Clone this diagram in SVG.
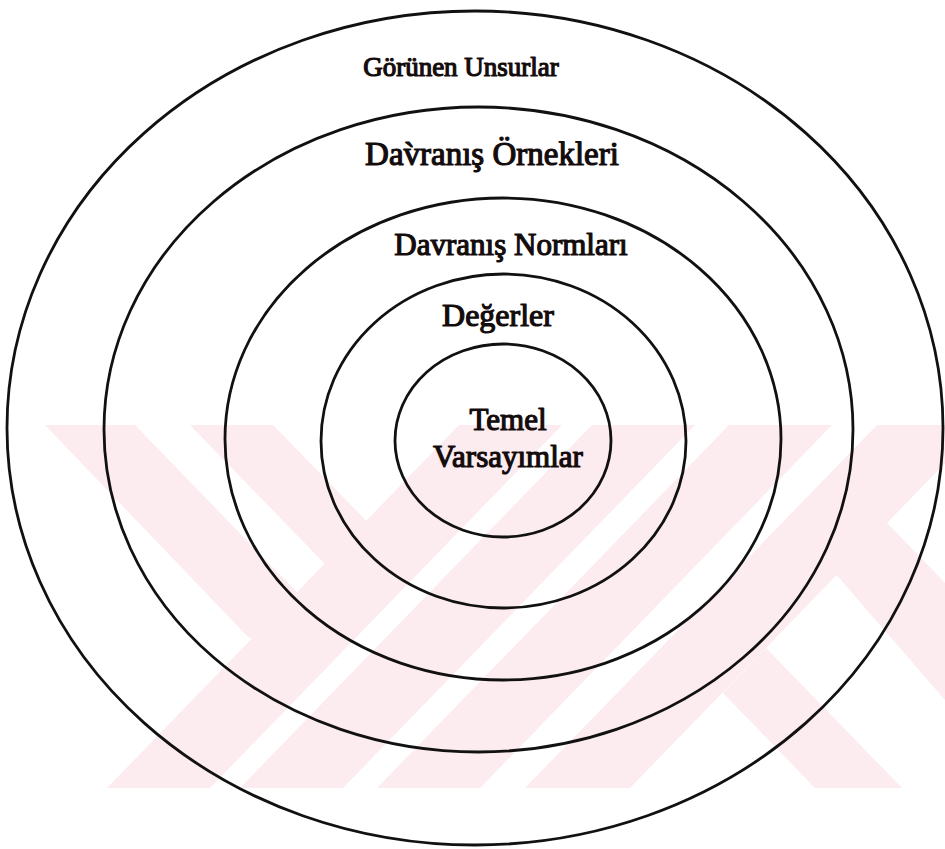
<svg xmlns="http://www.w3.org/2000/svg" width="945" height="849" viewBox="0 0 945 849">
  <defs>
    <clipPath id="band"><rect x="45" y="425" width="900" height="363"/></clipPath>
  </defs>
  <style>
    .ring { fill: none; stroke: #111; stroke-width: 2.8; }
    .lbl { font-family: "Liberation Serif", "Times New Roman", serif; fill: #140c0c; stroke: #140c0c; stroke-width: 1.2; stroke-linejoin: round; text-anchor: middle; }
    .wm { fill: #fcebef; stroke: none; }
  </style>
  <rect x="0" y="0" width="945" height="849" fill="#ffffff"/>
  <g id="watermark" clip-path="url(#band)">
    <polygon class="wm" points="107,788 210,788 562,425 459,425"/>
    <polygon class="wm" points="240,788 343,788 695,425 592,425"/>
    <polygon class="wm" points="377,788 480,788 832,425 729,425"/>
    <polygon class="wm" points="525,788 630,788 982,425 877,425"/>
    <polygon class="wm" points="45,425 135,425 348,645 249,638"/>
    <polygon class="wm" points="190,425 273,425 418,574 324,563"/>
    <polygon class="wm" points="815,788 902,788 766,648 723,693"/>
    <polygon class="wm" points="835,573 887,523 945,583 945,700"/>
  </g>
  <g id="connectors"></g>
  <g id="gorunen-unsurlar">
    <ellipse class="ring" cx="475" cy="428" rx="468" ry="417"/>
    <text class="lbl" x="461" y="76" font-size="27">Görünen Unsurlar</text>
  </g>
  <g id="davranis-ornekleri">
    <ellipse class="ring" cx="478.5" cy="429.5" rx="374.5" ry="322.5"/>
    <text class="lbl" x="492" y="165" font-size="33">Dav̀ranış Örnekleri</text>
  </g>
  <g id="davranis-normlari">
    <ellipse class="ring" cx="503" cy="439" rx="278" ry="241"/>
    <text class="lbl" x="511" y="255" font-size="31">Davranış Normları</text>
  </g>
  <g id="degerler">
    <ellipse class="ring" cx="503.5" cy="441" rx="182.5" ry="167"/>
    <text class="lbl" x="498" y="326" font-size="32">Değerler</text>
  </g>
  <g id="temel-varsayimlar">
    <ellipse class="ring" cx="503" cy="440.5" rx="108" ry="96.5"/>
    <text class="lbl" x="508" y="430" font-size="31">Temel</text>
    <text class="lbl" x="508" y="467" font-size="31">Varsayımlar</text>
  </g>
</svg>
